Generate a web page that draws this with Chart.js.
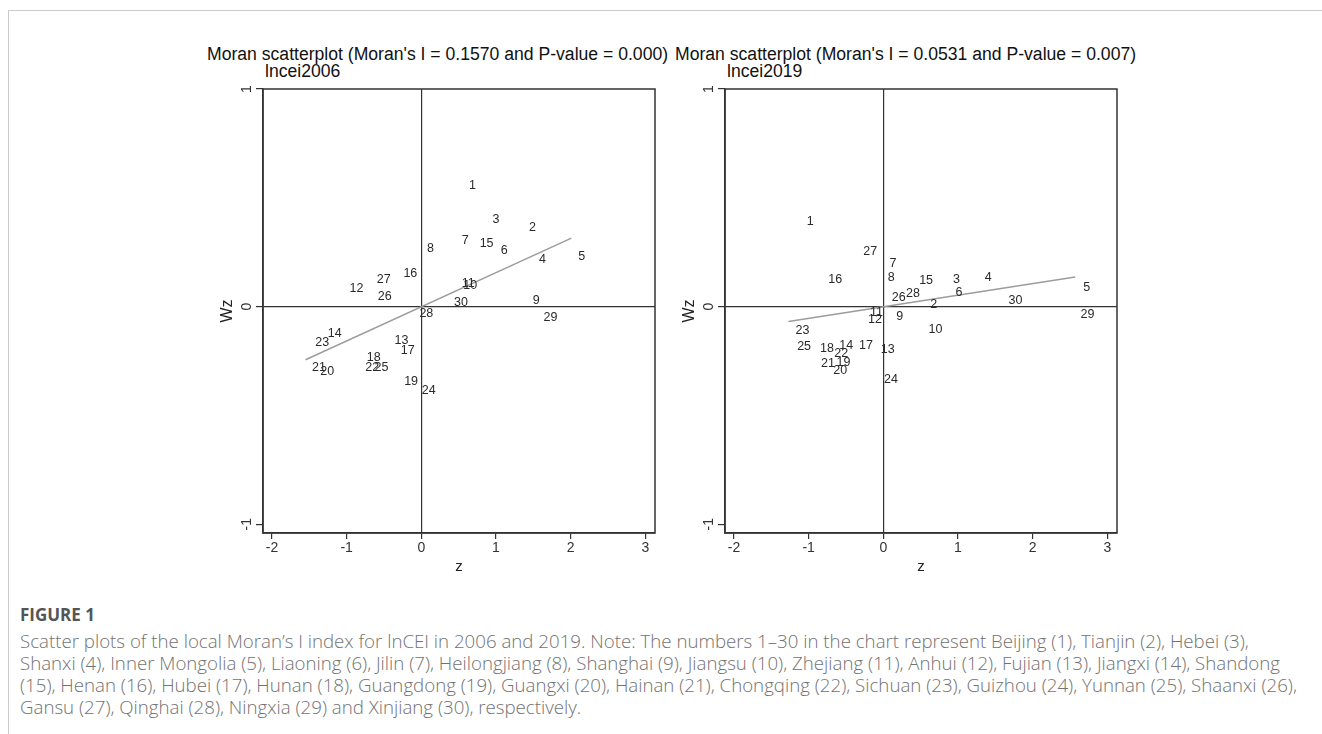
<!DOCTYPE html>
<html>
<head>
<meta charset="utf-8">
<script src="https://cdn.jsdelivr.net/npm/chart.js@4.4.1/dist/chart.umd.min.js"></script>
<style>
html,body{margin:0;padding:0;background:#fff;}
body{width:1322px;height:734px;overflow:hidden;position:relative;}
.frameTop{position:absolute;left:9px;top:10px;width:1313px;height:0;border-top:1.5px solid #cccccc;}
.frameLeft{position:absolute;left:8px;top:10px;width:0;height:724px;border-left:1.5px solid #cccccc;}
.ttl{position:absolute;font-family:"Liberation Sans",Arial,sans-serif;font-size:17.6px;line-height:1;color:#111;white-space:nowrap;}
canvas{position:absolute;}
#fig{position:absolute;left:20px;top:604px;font-family:"Open Sans",sans-serif;font-weight:700;font-size:17px;line-height:22px;color:#555;white-space:nowrap;}
#cap{position:absolute;left:20px;top:630px;font-family:"Open Sans",sans-serif;font-weight:300;font-size:16px;line-height:22px;color:#727272;white-space:nowrap;}
#cap span{display:block;}
</style>
</head>
<body>
<div class="frameTop"></div>
<div class="frameLeft"></div>

<div class="ttl" style="left:207px;top:46px;">Moran scatterplot (Moran's I = 0.1570 and P-value = 0.000)</div>
<div class="ttl" style="left:265px;top:63px;">lncei2006</div>
<div class="ttl" style="left:675px;top:46px;">Moran scatterplot (Moran's I = 0.0531 and P-value = 0.007)</div>
<div class="ttl" style="left:727px;top:63px;">lncei2019</div>

<canvas id="c2006" width="475" height="500" style="left:190px;top:80px;"></canvas>
<canvas id="c2019" width="475" height="500" style="left:652px;top:80px;"></canvas>

<div id="fig">FIGURE 1</div>
<div id="cap">
<span id="l1">Scatter plots of the local Moran’s I index for lnCEI in 2006 and 2019. Note: The numbers 1–30 in the chart represent Beijing (1), Tianjin (2), Hebei (3),</span>
<span id="l2">Shanxi (4), Inner Mongolia (5), Liaoning (6), Jilin (7), Heilongjiang (8), Shanghai (9), Jiangsu (10), Zhejiang (11), Anhui (12), Fujian (13), Jiangxi (14), Shandong</span>
<span id="l3">(15), Henan (16), Hubei (17), Hunan (18), Guangdong (19), Guangxi (20), Hainan (21), Chongqing (22), Sichuan (23), Guizhou (24), Yunnan (25), Shaanxi (26),</span>
<span id="l4">Gansu (27), Qinghai (28), Ningxia (29) and Xinjiang (30), respectively.</span>
</div>

<script>
// ---- data ----
const regionIds = ["1","2","3","4","5","6","7","8","9","10","11","12","13","14","15","16","17","18","19","20","21","22","23","24","25","26","27","28","29","30"];

const z2006  = [0.552,1.354,0.865,1.488,2.015,0.976,0.455,-0.013,1.404,0.475,0.452,-1.05,-0.448,-1.34,0.693,-0.328,-0.364,-0.818,-0.318,-1.44,-1.553,-0.84,-1.508,-0.083,-0.715,-0.671,-0.684,-0.114,1.548,0.35];
const wz2006 = [0.557,0.363,0.401,0.218,0.229,0.259,0.302,0.265,0.027,0.095,0.107,0.081,-0.156,-0.122,0.29,0.15,-0.203,-0.236,-0.342,-0.30,-0.282,-0.28,-0.163,-0.384,-0.28,0.047,0.124,-0.03,-0.049,0.017];

const z2019  = [-1.114,0.541,0.846,1.271,2.59,0.877,-0.004,-0.03,0.085,0.517,-0.266,-0.293,-0.123,-0.678,0.392,-0.826,-0.413,-0.937,-0.714,-0.758,-0.923,-0.745,-1.264,-0.078,-1.242,0.024,-0.356,0.217,2.553,1.59];
const wz2019 = [0.389,0.008,0.124,0.134,0.086,0.065,0.198,0.134,-0.046,-0.105,-0.029,-0.061,-0.198,-0.18,0.118,0.124,-0.178,-0.191,-0.256,-0.293,-0.262,-0.216,-0.111,-0.336,-0.183,0.04,0.252,0.058,-0.037,0.027];

const trendX2006 = [-1.55, 2.01];
const trendY2006 = [-0.244, 0.315];
const trendX2019 = [-1.27, 2.57];
const trendY2019 = [-0.068, 0.136];

const xTicks = [-2,-1,0,1,2,3];
const yTicks = [-1,0,1];
const xRange = [-2.12, 3.13];
const yRange = [-1.04, 1.0];

// ---- chart ----
const FONT = '"Liberation Sans", Arial, sans-serif';
Chart.defaults.font.family = FONT;

const pointLabelPlugin = {
  id: 'pointLabels',
  afterDatasetsDraw(chart) {
    const ctx = chart.ctx;
    const ds = chart.data.datasets[0];
    const meta = chart.getDatasetMeta(0);
    ctx.save();
    ctx.font = '12.5px ' + FONT;
    ctx.fillStyle = '#2a2a2a';
    ctx.textAlign = 'left';
    ctx.textBaseline = 'middle';
    meta.data.forEach((el, i) => {
      ctx.fillText(ds.pointText[i], el.x + 6.6, el.y);
    });
    ctx.restore();
  }
};

const framePlugin = {
  id: 'frame',
  afterDraw(chart) {
    const a = chart.chartArea, ctx = chart.ctx;
    ctx.save();
    ctx.strokeStyle = '#333';
    ctx.lineWidth = 1.5;
    ctx.strokeRect(a.left, a.top, a.right - a.left, a.bottom - a.top);
    ctx.restore();
  }
};

function makeChart(id, zs, wzs, tx, ty) {
  const pts = zs.map((v, i) => ({x: v, y: wzs[i]}));
  const line = tx.map((v, i) => ({x: v, y: ty[i]}));
  return new Chart(document.getElementById(id), {
    type: 'scatter',
    data: {
      datasets: [
        {data: pts, pointText: regionIds, pointRadius: 0, pointHoverRadius: 0, showLine: false},
        {data: line, showLine: true, borderColor: '#9c9c9c', borderWidth: 1.4, pointRadius: 0, fill: false}
      ]
    },
    options: {
      responsive: false,
      animation: false,
      events: [],
      layout: {padding: {top: 9, right: 10, left: 0, bottom: 0}},
      plugins: {legend: {display: false}, tooltip: {enabled: false}},
      scales: {
        x: {
          type: 'linear', min: xRange[0], max: xRange[1],
          afterBuildTicks: s => { s.ticks = xTicks.map(v => ({value: v})); },
          afterFit: s => { s.height = 47; s.paddingLeft = 0; s.paddingRight = 0; },
          ticks: {font: {size: 14}, color: '#333', padding: 1, maxRotation: 0, minRotation: 0,
                  callback: v => String(v)},
          grid: {drawOnChartArea: true, lineWidth: 1.2, tickLength: 6, tickColor: '#333', tickWidth: 1.2,
                 color: c => (c.tick && c.tick.value === 0) ? '#333' : 'rgba(0,0,0,0)'},
          border: {display: true, color: '#333', width: 1.5},
          title: {display: true, text: 'z', font: {size: 15}, color: '#222', padding: {top: 0, bottom: 4}}
        },
        y: {
          type: 'linear', min: yRange[0], max: yRange[1],
          afterBuildTicks: s => { s.ticks = yTicks.map(v => ({value: v})); },
          afterFit: s => { s.width = 73; s.paddingTop = 0; s.paddingBottom = 0; },
          ticks: {font: {size: 14}, color: '#333', padding: 3, minRotation: 90, maxRotation: 90,
                  crossAlign: 'center', callback: v => String(v)},
          grid: {drawOnChartArea: true, lineWidth: 1.2, tickLength: 7, tickColor: '#333', tickWidth: 1.2,
                 color: c => (c.tick && c.tick.value === 0) ? '#333' : 'rgba(0,0,0,0)'},
          border: {display: true, color: '#333', width: 1.5},
          title: {display: true, text: 'Wz', font: {size: 16}, color: '#222', padding: {top: 28, bottom: 0}}
        }
      }
    },
    plugins: [pointLabelPlugin, framePlugin]
  });
}

makeChart('c2006', z2006, wz2006, trendX2006, trendY2006);
makeChart('c2019', z2019, wz2019, trendX2019, trendY2019);

// fit caption font so the longest line matches the reference width
(function fitCaption(){
  const l2 = document.getElementById('l2');
  const cap = document.getElementById('cap');
  const w = l2.getBoundingClientRect().width;
  const target = 1278;
  if (w > 0) cap.style.fontSize = (16 * target / w).toFixed(3) + 'px';
})();
</script>
</body>
</html>
